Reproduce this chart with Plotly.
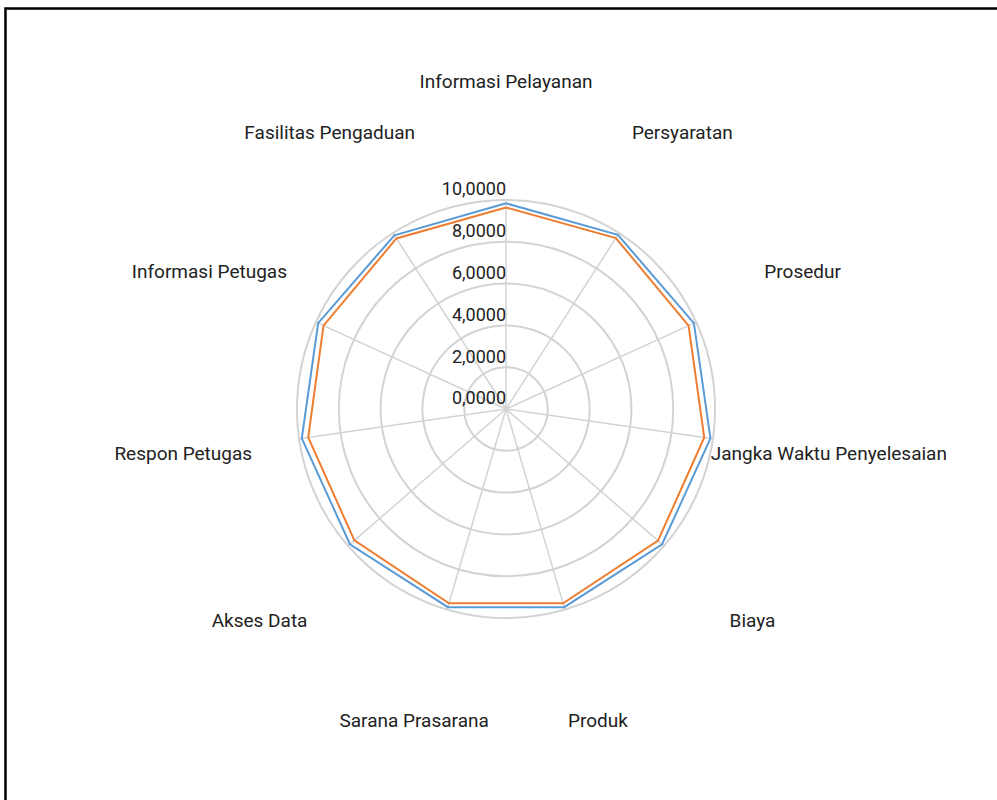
import plotly.graph_objects as go

categories = ["Informasi Pelayanan", "Persyaratan", "Prosedur", "Jangka Waktu Penyelesaian",
              "Biaya", "Produk", "Sarana Prasarana", "Akses Data", "Respon Petugas",
              "Informasi Petugas", "Fasilitas Pengaduan"]
series_blue = [9.84, 9.90, 9.88, 9.88, 9.88, 9.88, 9.88, 9.88, 9.87, 9.88, 9.88]
series_orange = [9.64, 9.72, 9.60, 9.58, 9.62, 9.69, 9.69, 9.60, 9.56, 9.60, 9.70]
tick_values = [0, 2, 4, 6, 8, 10]
tick_labels = ["0,0000", "2,0000", "4,0000", "6,0000", "8,0000", "10,0000"]
r_max = 10
label_radius = 15.6
outer_range = 16.5

BLUE = "#5B9BD5"
ORANGE = "#ED7D31"
GRID = "#d3d3d3"
LABEL_FONT = dict(family="Roboto, Arial, sans-serif", size=19, color="#222222")
TICK_FONT = dict(family="Roboto, Arial, sans-serif", size=18, color="#222222")

fig = go.Figure()

# spokes from centre to the outer ring
spoke_r, spoke_t = [], []
for c in categories:
    spoke_r += [0, r_max, None]
    spoke_t += [c, c, None]
fig.add_trace(go.Scatterpolar(r=spoke_r, theta=spoke_t, mode="lines",
                              line=dict(color=GRID, width=1.5),
                              showlegend=False, hoverinfo="skip"))

for vals, col in [(series_blue, BLUE), (series_orange, ORANGE)]:
    fig.add_trace(go.Scatterpolar(
        r=vals + vals[:1], theta=categories + categories[:1],
        mode="lines", line=dict(color=col, width=2), showlegend=False,
    ))

# radial tick labels (just above-left of each ring on the first spoke)
fig.add_trace(go.Scatterpolar(
    r=tick_values, theta=[categories[0]] * len(tick_values),
    mode="text", text=tick_labels, textposition="top left",
    textfont=TICK_FONT, cliponaxis=False, showlegend=False, hoverinfo="skip",
))

# category point labels outside the rings
fig.add_trace(go.Scatterpolar(
    r=[label_radius] * len(categories), theta=categories,
    mode="text", text=categories, textposition="middle center",
    textfont=LABEL_FONT, cliponaxis=False, showlegend=False, hoverinfo="skip",
))

fig.update_layout(
    width=997, height=800,
    margin=dict(l=0, r=0, t=0, b=0),
    paper_bgcolor="white", plot_bgcolor="white",
    showlegend=False,
    polar=dict(
        domain=dict(x=[0.1616, 0.8535], y=[0.0576, 0.9199]),
        bgcolor="rgba(0,0,0,0)",
        radialaxis=dict(range=[0, outer_range], tickvals=tick_values[1:], showticklabels=False,
                        ticks="", showline=False, gridcolor=GRID, gridwidth=1.5),
        angularaxis=dict(direction="clockwise", rotation=90, showticklabels=False,
                         ticks="", showline=False, showgrid=False),
    ),
    shapes=[dict(type="rect", xref="paper", yref="paper",
                 x0=0.0055, x1=1.01, y0=-0.01, y1=0.9894,
                 line=dict(color="black", width=2.5))],
)

fig.write_html("out.html", config={"displayModeBar": False},
               post_script="document.body.style.margin='0px';")
